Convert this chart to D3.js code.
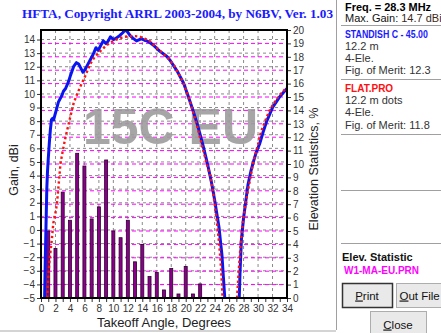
<!DOCTYPE html>
<html>
<head>
<meta charset="utf-8">
<script src="https://cdn.jsdelivr.net/npm/d3@7/dist/d3.min.js"></script>
<style>
  html, body { margin: 0; padding: 0; background: #fff; }
  svg { display: block; font-family: "Liberation Sans", Arial, sans-serif; }
</style>
</head>
<body>
<script>
// Elevation angles (degrees) and gain (dBi) for each antenna pattern
const standishAngles = [0.5,0.6,0.72,0.8,0.9,1.0,1.15,1.3,1.45,1.6,1.75,1.9,2.1,2.4,2.7,2.9,3.1,3.4,3.8,4.1,4.5,4.9,5.2,5.5,5.8,6.1,6.4,6.8,7.2,7.6,7.9,8.2,8.6,9.0,9.3,9.6,10.0,10.4,10.9,11.3,11.6,11.9,12.3,12.7,13.2,13.6,13.9,14.3,14.6,15.0,15.5,16.0,16.4,16.9,17.4,17.8,18.3,18.8,19.2,19.7,20.3,21.0,21.7,22.4,23.1,23.6,24.0,24.3,24.6,24.8,25.0,25.2,25.4,26.4,27.4,27.5,27.7,28.0,28.2,28.6,29.0,29.4,29.8,30.2,30.7,31.2,31.6,32.0,32.5,33.0,33.5,34.0];
const standishGain = [-5,-2,1,3,4.3,5.2,6.4,7.4,8.1,8.2,8.1,8.4,8.8,9.4,9.7,9.9,10.2,10.4,10.9,11.4,12.0,12.3,12.2,11.9,11.6,11.8,12.1,12.5,12.9,13.4,13.2,13.5,13.9,13.7,13.9,14.2,14.0,14.1,14.3,14.5,14.7,14.6,14.3,14.1,13.9,14.0,14.05,13.95,13.9,13.8,13.6,13.35,13.15,12.95,12.75,12.5,12.1,11.7,11.3,10.8,9.9,8.8,7.6,6.2,4.65,3.4,2.2,1.2,0.2,-0.8,-1.8,-3.4,-5,null,-5,-3.2,-0.7,0.9,1.7,3.3,4.3,5.1,5.8,6.3,7.2,8.0,8.5,9.0,9.4,9.8,10.1,10.4];

const flatAngles = [0.85,1.0,1.15,1.35,1.5,1.7,1.95,2.2,2.45,2.7,3.0,3.3,3.6,4.0,4.5,5.0,5.4,6.1,6.8,7.4,8.1,8.8,9.5,10.2,10.9,11.6,12.3,13.0,13.7,14.4,15.1,15.8,16.4,17.1,17.8,18.5,19.2,19.7,20.3,20.9,21.6,22.3,23.0,23.4,23.8,24.1,24.4,24.6,24.8,24.95,25.1,26.1,27.1,27.3,27.6,27.9,28.3,28.6,29.0,29.3,29.7,30.0,30.4,30.9,31.2,31.7,32.3,32.8,33.3,34.0];
const flatGain = [-5,-3.6,-2.4,-1.4,-0.7,0.5,1.1,1.9,3.4,4.9,5.8,6.6,7.3,8.2,9.3,10.0,10.5,11.3,12.2,12.7,13.1,13.45,13.75,13.95,14.1,14.2,14.25,14.25,14.2,14.05,13.85,13.5,13.2,12.85,12.5,12.0,11.3,10.8,9.9,8.9,7.6,6.1,4.7,4.0,2.7,1.5,0.2,-0.9,-2.2,-3.4,-5,null,-5,-3.2,-1.0,0.6,2.0,2.9,4.0,4.9,5.7,6.3,7.2,7.9,8.3,8.9,9.4,9.8,10.1,10.5];

// Elevation statistics (% of openings) per degree
const statAngles = [1,2,3,4,5,6,7,8,9,10,11,12,13,14,15,16,17,18,19,20,21,22];
const statPercent = [5.0,3.7,7.9,5.8,10.8,9.85,5.9,6.8,10.3,5.0,4.5,5.8,2.7,4.0,1.6,1.9,0.6,2.2,0.3,2.35,0.3,1.05];

// Axis ticks
const angleTicks = d3.range(0, 35, 1);
const gainTicks = d3.range(-5, 15, 1);
const pctTicks = d3.range(0, 21, 1);

// Side panel text
const titleText = "HFTA, Copyright ARRL 2003-2004, by N6BV, Ver. 1.03";
const freqText = "Freq. = 28.3 MHz";
const maxGainLabel = "Max. Gain: ";
const maxGainValue = "14.7 dBi";
const antenna1 = ["STANDISH C - 45.00", "12.2 m", "4-Ele.", "Fig. of Merit:  12.3"];
const antenna2 = ["FLAT.PRO", "12.2 m dots", "4-Ele.", "Fig. of Merit:  11.8"];
const statTitle = "Elev. Statistic";
const statFile = "W1-MA-EU.PRN";
const watermark = "15C EU";

const W = 441, H = 333;
const plot = {left: 41, right: 287, top: 30, bottom: 298};

const svg = d3.select("body").append("svg").attr("width", W).attr("height", H);

const x = d3.scaleLinear().domain([0, 34]).range([plot.left, plot.right]);
const yGain = d3.scaleLinear().domain([-5, 14.7]).range([plot.bottom, plot.top]);
const yPct = d3.scaleLinear().domain([0, 20]).range([plot.bottom, plot.top]);

// Title
svg.append("text")
  .attr("x", 22).attr("y", 18)
  .attr("textLength", 311).attr("lengthAdjust", "spacingAndGlyphs")
  .style("font-family", "'Liberation Serif', 'Times New Roman', serif")
  .style("font-weight", "bold").style("font-size", "13.5px")
  .attr("fill", "#1a1aff")
  .text(titleText);

// Grid
const grid = svg.append("g");
grid.selectAll("line.vg").data(d3.range(2, 34, 2)).join("line")
  .attr("x1", d => x(d)).attr("x2", d => x(d))
  .attr("y1", plot.top).attr("y2", plot.bottom)
  .attr("stroke", "#8a8a8a").attr("stroke-width", 1).attr("stroke-dasharray", "3,3");
grid.selectAll("line.hg").data(gainTicks.filter(d => d > -5)).join("line")
  .attr("x1", plot.left).attr("x2", plot.right)
  .attr("y1", d => yGain(d)).attr("y2", d => yGain(d))
  .attr("stroke", "#8a8a8a").attr("stroke-width", 1).attr("stroke-dasharray", "3,3");
grid.selectAll("line.pg").data(pctTicks.filter(d => d > 0 && d < 20)).join("line")
  .attr("x1", plot.left).attr("x2", plot.right)
  .attr("y1", d => yPct(d)).attr("y2", d => yPct(d))
  .attr("stroke", "#ff00ff").attr("stroke-width", 1).attr("stroke-dasharray", "4,3");

// Watermark
svg.append("text")
  .attr("x", 83).attr("y", 144)
  .style("font-weight", "bold").style("font-size", "50px")
  .attr("fill", "#9c9c9c").attr("fill-opacity", 0.9)
  .text(watermark);

// Elevation statistics bars
svg.append("g").selectAll("rect").data(statAngles).join("rect")
  .attr("x", (d) => x(d) - 1.5)
  .attr("width", 3)
  .attr("y", (d, i) => yPct(statPercent[i]))
  .attr("height", (d, i) => yPct(0) - yPct(statPercent[i]))
  .attr("fill", "#8b008b").attr("stroke", "#2a002a").attr("stroke-width", 0.8);

// Pattern curves
svg.append("clipPath").attr("id", "plotclip").append("rect")
  .attr("x", plot.left).attr("y", plot.top)
  .attr("width", plot.right - plot.left).attr("height", plot.bottom - plot.top);

const line = d3.line()
  .defined(d => d[1] !== null)
  .x(d => x(d[0])).y(d => yGain(d[1]));

svg.append("path")
  .datum(standishAngles.map((a, i) => [a, standishGain[i]]))
  .attr("clip-path", "url(#plotclip)")
  .attr("d", line)
  .attr("fill", "none").attr("stroke", "#0a14f0").attr("stroke-width", 3)
  .attr("stroke-linejoin", "round");

svg.append("path")
  .datum(flatAngles.map((a, i) => [a, flatGain[i]]))
  .attr("clip-path", "url(#plotclip)")
  .attr("d", line)
  .attr("fill", "none").attr("stroke", "#ff1010").attr("stroke-width", 2.4)
  .attr("stroke-dasharray", "2.4,2.6");

// Frame
svg.append("rect")
  .attr("x", plot.left).attr("y", plot.top)
  .attr("width", plot.right - plot.left).attr("height", plot.bottom - plot.top)
  .attr("fill", "none").attr("stroke", "#000").attr("stroke-width", 2);

// Axes
function styleAxis(g) {
  g.select(".domain").remove();
  g.selectAll(".tick line").attr("stroke", "#333");
  g.selectAll(".tick text").attr("fill", "#333")
    .style("font-size", "10px").style("font-family", "'Liberation Sans', Arial, sans-serif");
}

svg.append("g").attr("transform", `translate(0,${plot.bottom + 1})`)
  .call(d3.axisBottom(x).tickValues(angleTicks).tickSize(3).tickPadding(3)
    .tickFormat(d => d % 2 === 0 ? d : ""))
  .call(styleAxis);

svg.append("g").attr("transform", `translate(${plot.left - 1},0)`)
  .call(d3.axisLeft(yGain).tickValues(gainTicks).tickSize(3).tickPadding(2))
  .call(styleAxis);

svg.append("g").attr("transform", `translate(${plot.right + 1},0)`)
  .call(d3.axisRight(yPct).tickValues(pctTicks).tickSize(3).tickPadding(2))
  .call(styleAxis);

// Axis titles
svg.append("text")
  .attr("transform", `translate(18,${(plot.top + plot.bottom) / 2 + 6}) rotate(-90)`)
  .attr("text-anchor", "middle").style("font-size", "12.5px").attr("fill", "#222")
  .text("Gain, dBi");
svg.append("text")
  .attr("transform", `translate(318,${(plot.top + plot.bottom) / 2 + 5}) rotate(-90)`)
  .attr("text-anchor", "middle").style("font-size", "12.5px").attr("fill", "#222")
  .text("Elevation Statistics, %");
svg.append("text")
  .attr("x", (plot.left + plot.right) / 2).attr("y", 327)
  .attr("text-anchor", "middle").style("font-size", "13px").attr("fill", "#222")
  .text("Takeoff Angle, Degrees");

// Bottom separator
svg.append("line").attr("x1", 0).attr("x2", 336).attr("y1", 331).attr("y2", 331)
  .attr("stroke", "#d4d4d4").attr("stroke-width", 2);

// Side panel
const panel = svg.append("g");
panel.append("line").attr("x1", 336.5).attr("x2", 336.5).attr("y1", 0).attr("y2", 330)
  .attr("stroke", "#a0a0a0").attr("stroke-width", 1);
[25.5, 79.5, 134.5, 190.5, 243.5].forEach(yy => {
  panel.append("line").attr("x1", 341).attr("x2", W).attr("y1", yy).attr("y2", yy)
    .attr("stroke", "#a0a0a0").attr("stroke-width", 1);
});

const px = 345;
panel.append("text").attr("x", px).attr("y", 11)
  .attr("textLength", 86).attr("lengthAdjust", "spacingAndGlyphs")
  .style("font-weight", "bold").style("font-size", "11.5px").attr("fill", "#000").text(freqText);
const mg = panel.append("text").attr("x", px).attr("y", 22).style("font-size", "11px");
mg.append("tspan").attr("fill", "#111").text(maxGainLabel);
mg.append("tspan").attr("fill", "#3a2a1a").text(maxGainValue);

function block(lines, y0, color) {
  lines.forEach((t, i) => {
    const el = panel.append("text")
      .attr("transform", `translate(${px},${y0 + i * 12.2})` + (i === 0 && t.length > 12 ? " scale(0.88,1)" : ""))
      .style("font-size", i === 0 ? "10px" : "11px")
      .style("font-weight", i === 0 ? "bold" : "normal")
      .attr("fill", i === 0 ? color : "#333")
      .text(t);
  });
}
block(antenna1, 37.5, "#1a1aff");
block(antenna2, 92, "#ff1010");

panel.append("text").attr("x", px - 3).attr("y", 261)
  .style("font-weight", "bold").style("font-size", "11px").attr("fill", "#111").text(statTitle);
panel.append("text").attr("x", px - 1).attr("y", 274)
  .style("font-weight", "bold").style("font-size", "10px").attr("fill", "#ff00ff").text(statFile);

function button(bx, by, bw, bh, label, focused, tx) {
  const g = panel.append("g");
  g.append("rect").attr("x", bx + 0.5).attr("y", by + 0.5).attr("width", bw).attr("height", bh)
    .attr("fill", "#e9e9e9").attr("stroke", focused ? "#333" : "#adadad").attr("stroke-width", focused ? 1.5 : 1);
  const t = g.append("text").attr("y", by + bh / 2 + 4.5)
    .style("font-size", "11.5px").attr("fill", "#111");
  if (tx === undefined) t.attr("x", bx + bw / 2).attr("text-anchor", "middle");
  else t.attr("x", tx);
  t.append("tspan").style("text-decoration", "underline").text(label[0]);
  t.append("tspan").text(label.slice(1));
  return g;
}
button(342, 283, 50, 24, "Print", true);
button(396, 283, 52, 24, "Out File", false, 399.5);
button(370, 311, 56, 26, "Close", false);
</script>
</body>
</html>
